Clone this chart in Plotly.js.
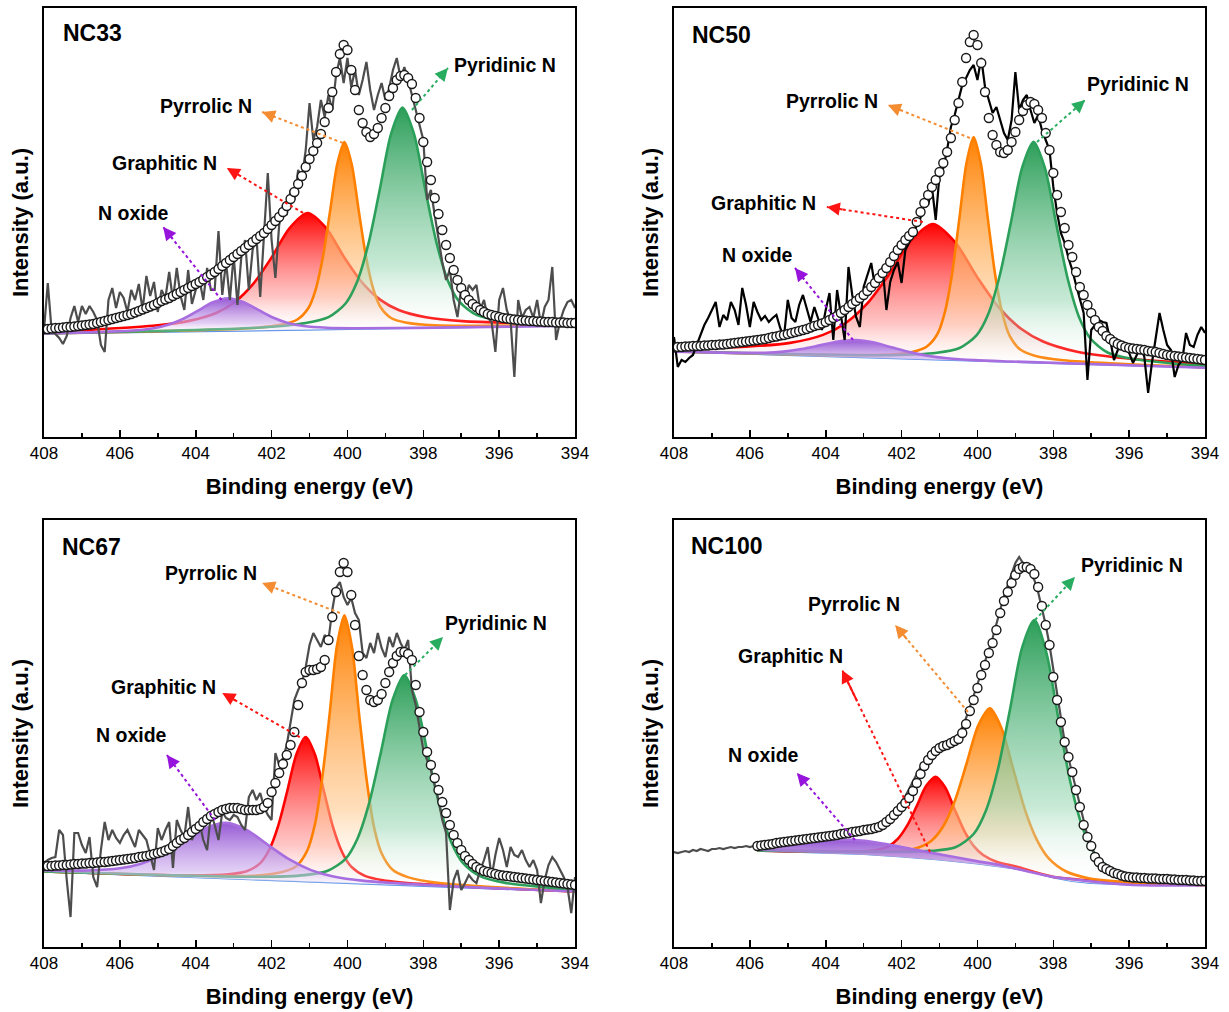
<!DOCTYPE html>
<html><head><meta charset="utf-8">
<script src="https://cdn.plot.ly/plotly-3.0.1.min.js"></script>
<style>html,body{margin:0;padding:0;background:#fff}#chart{width:1229px;height:1012px}</style>
</head><body><div id="chart"></div>
<script>
// ---------------- DATA (binding energy in eV, intensity in a.u.) ----------------
// raw spectra and envelopes sampled every 0.1 eV from 408 eV downwards
const nc33_raw = [107,154,107,103,99,93,101,119,131,115,131,123,131,125,117,92,85,137,149,129,145,139,125,147,137,153,127,161,141,155,125,147,139,165,137,169,141,127,167,133,147,157,137,169,147,147,206,142,175,137,182,132,179,197,147,187,201,140,205,264,197,159,212,232,222,247,237,267,259,287,334,297,310,337,320,342,327,362,379,354,379,350,367,342,357,375,347,327,342,354,337,349,367,379,359,370,357,342,327,312,297,237,247,222,197,175,157,167,137,120,149,137,152,147,152,127,137,119,115,85,137,149,127,117,60,137,119,127,130,119,137,112,130,137,170,97,115,127,135,137,129];
const nc33_fit = [108,108,108.5,109,109,109.5,110,110,110.5,111,111.5,112,112.5,113,114,115,116,117,118,119,120,121,122,123,124.5,126,127.5,129,130.5,132,134,136,137.5,139,141,143,145,147,149,151,153,155,157.5,160,162.5,165,168,171,174,177,180,183,186,189,192,195,198,201,204,208,212,216,220,225,231,238,245,253,261,270,278,286,294,303,315,329,345,365,383,392,387,367,347,327,314,305,300,303,309,319,329,341,349,357,361,362,359,353,339,319,295,275,257,239,223,207,192,179,167,157,149,142,137,133,130,127,125,123,122,121,120,119,118.5,118,117.5,117,116.5,116.5,116,116,115.5,115.5,115,115,115,114.5,114.5,114.5,114,114,114];
const nc33_base_x = [408, 394];
const nc33_base_y = [103, 111];
const nc33_pyridinic_x = [408,402.3,401.1,400.5,400.05,399.75,399.45,399.15,398.85,398.55,398.25,397.95,397.65,397.35,397.05,396.6,396.0,394.8,394];
const nc33_pyridinic_y = [103.5,109.5,114,119.8,133.5,154.7,192.8,247,303.2,329.4,303.6,247.7,193.9,156.1,135.3,122.1,117,113.8,113];
const nc33_pyrrolic_x = [408,402.46,401.7,401.32,401.03,400.84,400.65,400.46,400.27,400.08,399.89,399.7,399.51,399.32,399.13,398.85,398.47,397.71,394];
const nc33_pyrrolic_y = [103.5,109,112.6,117.5,129,147.2,179.4,225.2,272.8,295,273,225.6,180.1,148.1,130,119,114.5,111.7,112];
const nc33_graphitic_x = [408,407.05,405.13,404.17,403.45,402.97,402.49,402.01,401.53,401.05,400.57,400.09,399.61,399.13,398.65,397.93,396.97,395.05,394];
const nc33_graphitic_y = [105,106.7,111.2,116.1,124.2,134.9,152.8,178.9,208.7,224,209.3,180,154.4,137.1,127,119.7,115.9,113.6,113];
const nc33_oxide_x = [408,406.55,405.75,405.15,404.75,404.35,403.95,403.55,403.15,402.75,402.35,401.95,401.55,401.15,400.55,399.75,398.15,394];
const nc33_oxide_y = [103.5,104.9,106.2,108.5,112,117.8,126.1,134.7,138.8,135.1,127.1,119.2,113.8,110.9,109.2,108.8,109.1,111.2];

const nc50_raw = [100,70,77,75,79,82,92,102,112,119,127,135,110,122,117,135,127,112,149,132,110,135,125,117,121,115,119,122,109,100,137,119,115,132,142,127,115,130,119,107,127,144,97,147,122,97,170,142,120,110,150,162,174,150,157,170,127,155,167,175,154,187,194,202,212,219,237,232,250,217,262,269,287,310,322,337,352,359,367,372,357,379,350,337,324,330,317,304,297,317,365,327,337,342,327,314,322,307,297,287,250,224,204,194,179,167,152,139,124,57,107,112,117,115,114,97,77,87,94,89,84,74,82,90,80,44,74,97,124,107,92,87,60,72,77,104,92,90,102,110,104];
const nc50_fit = [90,90,90,90.5,90.5,91,91,91,91.5,91.5,92,92,92.5,92.5,93,93.5,94,94.5,95,95.5,96,96.5,97,97.5,98,99,100,100.5,101.5,102,103,104,105,106,107,108,109.5,111,112,113.5,115,117,119,121,124,127,130,133,136,139,142,146,150,154,159,164,169,175,181,187,192,197,201,205,215,225,234,242,250,257,265,274,285,299,317,334,355,379,395,402,392,374,345,319,302,292,285,284,287,295,305,317,326,332,335,333,327,319,304,287,264,242,225,209,192,180,165,150,142,132,124,117,110,106,101,98,95,93,91.5,90,89,88.5,88,87.5,87,86,85.5,85,84,83,82,81.5,81,80.5,80,79.5,79,78.5,78,77.5,77];
const nc50_base_x = [408, 394];
const nc50_base_y = [85, 69];
const nc50_pyridinic_x = [408,402.27,401.07,400.47,400.02,399.72,399.42,399.12,398.82,398.52,398.22,397.92,397.62,397.32,397.02,396.57,395.97,394.77,394];
const nc50_pyridinic_y = [85.5,81.8,84.2,89,101.9,122.5,160.2,213.9,269.5,295.2,268.8,212.5,158.2,119.8,98.5,84.5,78.4,73.2,71];
const nc50_pyrrolic_x = [408,402.48,401.72,401.34,401.05,400.86,400.67,400.48,400.29,400.1,399.91,399.72,399.53,399.34,399.15,398.87,398.49,397.73,394];
const nc50_pyrrolic_y = [85.5,82.1,85,90.2,103.3,124.7,162.8,217.3,273.8,300,273.4,216.4,161.5,123,101.1,87.4,81.3,76.7,69.5];
const nc50_graphitic_x = [408,406.1,404.94,404.07,403.49,402.91,402.33,401.75,401.17,400.59,400.01,399.43,398.85,398.27,397.4,396.24,394];
const nc50_graphitic_y = [89,90.4,94.1,102.1,113.5,133.3,162.7,196.3,213,194.9,160.1,129.3,108.2,95.5,85.5,79.2,72.5];
const nc50_oxide_x = [408,407.28,406.32,405.6,405.12,404.64,404.16,403.68,403.2,402.72,402.24,401.76,401.28,400.8,400.08,399.12,394];
const nc50_oxide_y = [85.3,84.8,84.1,84.3,85.4,87.9,91.6,95.5,97,94.4,89.4,84.6,81,78.8,76.9,75.5,69.2];

const nc67_raw = [84,87,89,90,117,112,67,30,114,114,102,94,110,70,60,97,125,107,117,109,104,112,117,109,100,117,112,107,92,77,119,107,117,125,79,127,117,110,140,107,117,124,107,97,134,122,107,135,129,127,132,130,122,117,150,157,147,154,140,132,127,194,182,189,202,227,247,257,264,280,302,314,307,300,312,307,337,359,365,350,342,349,334,327,294,289,304,294,314,299,290,310,300,314,304,297,307,257,242,217,197,187,177,162,147,127,114,37,67,77,57,64,72,67,64,77,87,100,70,92,109,97,80,100,92,90,97,87,80,87,77,44,67,82,90,85,77,70,60,34,70];
const nc67_fit = [81,81,81,81.5,81.5,82,82,82.5,83,83,83.5,83.5,84,84,84.5,85,85,85.5,86,86.5,87,87.5,88,88.5,89,90,90.5,91,92,93,94,95,96.5,98,101,104,107,109,112,115,118,121,125,128,131,133,135,137,138,139,139,139,138,137,137,137,137,138,140,144,155,164,174,183,192,202,215,242,264,275,277,277,278,280,287,307,330,355,375,384,375,352,322,291,272,257,247,245,247,253,264,275,284,291,295,295,293,287,262,235,215,195,182,169,157,145,134,122,112,104,97,91,87,83,80,78,76,75,74,73,72,71.5,71,70.5,70,69.5,69,68.5,68,67.5,67,66.5,66,65.5,65,64.5,64,63.5,63,62.5,62];
const nc67_base_x = [408, 394];
const nc67_base_y = [75, 55];
const nc67_pyridinic_x = [408,402.38,401.14,400.52,400.05,399.74,399.43,399.12,398.81,398.5,398.19,397.88,397.57,397.26,396.95,396.49,395.87,394.63,394];
const nc67_pyridinic_y = [75.5,70.2,71.9,76.3,88.2,108.1,143.7,194.4,247.1,272,246.2,192.6,141,104.6,83.8,70.6,64.4,59.1,56];
const nc67_pyrrolic_x = [408,402.53,401.75,401.35,401.06,400.86,400.67,400.47,400.28,400.08,399.88,399.69,399.49,399.3,399.1,398.81,398.41,397.63,394];
const nc67_pyrrolic_y = [75.5,71.2,74.7,80.8,96.5,122.2,167.7,232.8,300.4,331.7,299.8,231.7,166,119.9,93.7,77.2,69.9,64.2,55.5];
const nc67_graphitic_x = [408,404.1,403.14,402.66,402.3,402.06,401.82,401.58,401.34,401.1,400.86,400.62,400.38,400.14,399.9,399.54,399.06,398.1,394];
const nc67_graphitic_y = [75.5,71.6,72.7,75.7,83.9,97.5,122,157,193.4,210,192.7,155.7,119.9,94.8,80.4,71.2,66.8,63.1,55.5];
const nc67_oxide_x = [408,406.84,406,405.44,404.88,404.32,403.76,403.2,402.64,402.08,401.52,400.96,400.4,399.56,398.44,396.2,394];
const nc67_oxide_y = [76.8,76.5,78.7,83.3,92.1,104.9,118.3,124.1,116.7,101.7,87.3,76.9,70.8,66.1,63.1,58.9,55.5];

const nc100_raw = [95,94,95,96,95,97,96,98,97,96,98,98,99,98,99,100,99,100,100,101,100,101,101,101.5,102,103,103.5,104,104.5,105,106,106.5,107,107.5,108,108.5,109,109.5,110,110.5,111,111.5,112,112.5,113,114,114.5,115,116,116.5,117,118,118.5,119,121,123,126,130,135,140,145,151,158,166,173,180,186,191,195,198,200,202,204,206,209,213,220,229,240,251,262,274,285,297,309,322,337,351,362,373,384,390,384,380,374,367,355,340,322,302,277,250,227,205,189,173,157,141,124,111,101,92,85,81,78,76,74,73,72,71,70,70,69.5,69,69,68.5,68.5,68,68,68,67.5,67.5,67,67,67,66.5,66.5,66,66,66,65.5];
// envelope of NC100 starts at 405.8 eV
const nc100_fit = [101,101.5,102,102.5,103,104,104.5,105,105.5,106,106.5,107,107.5,108,108.5,109,109.5,110,110.5,111,111.5,112,113,113.5,114,115,115.5,116,117,117.5,118,119,120,122,125,128,132,136,140,144,149,156,164,173,181,187,192,196,199,201,202,204,206,208,214,223,236,247,259,272,282,294,304,317,334,346,355,364,372,378,380,380,378,373,360,341,322,302,270,247,225,205,190,175,157,140,122,110,101,90,85,80,78,76,74,73,71.5,70.5,70,69.5,69.5,69,69,68.5,68.5,68.5,68,68,68,67.5,67.5,67,67,67,66.5,66.5,66,66,66];
const nc100_base_x = [405.8,404,403,402,401,400,399.5,399,398.5,398,397.5,397,396,395,394];
const nc100_base_y = [96,94,92.5,90,87,83,80.5,78,74,69,65.5,63.5,62,61.7,61.5];
const nc100_pyridinic_x = [405.8,402.5,401.22,400.58,400.1,399.78,399.46,399.14,398.82,398.5,398.18,397.86,397.54,397.22,396.9,396.42,395.78,394.5,394];
const nc100_pyridinic_y = [96.5,95.1,96.1,99.7,113,136,177.7,237.8,299.7,327,293.9,227.1,163.2,118.5,92.9,77,70,65.4,63.5];
const nc100_pyrrolic_x = [405.8,403.55,402.31,401.69,401.22,400.91,400.6,400.29,399.98,399.67,399.36,399.05,398.74,398.43,398.12,397.66,397.04,395.8,394];
const nc100_pyrrolic_y = [96.5,95.8,95.8,98,106.1,120.2,145.8,183,221.4,238.6,218.3,177.1,136.4,106.9,88.6,75.5,68.6,64.3,62];
const nc100_graphitic_x = [405.8,404.23,403.23,402.73,402.35,402.1,401.85,401.6,401.35,401.1,400.85,400.6,400.35,400.1,399.85,399.48,398.98,397.98,394];
const nc100_graphitic_y = [96.5,95.4,95.6,96.6,100.6,108.1,121.6,141,161.2,170.3,159.6,137.6,116.4,101.2,92,85.1,80.5,70.1,62];
const nc100_oxide_x = [405.8,404.9,404.1,403.3,402.5,401.7,400.9,400.1,399.3,398.1,396,394];
const nc100_oxide_y = [100.9,103.7,106.4,107.1,103.6,97.8,92,86.4,81.1,70.8,62.3,61.7];

const sample_names = ['NC33', 'NC50', 'NC67', 'NC100'];
const species_names = {pyridinic: 'Pyridinic N', pyrrolic: 'Pyrrolic N', graphitic: 'Graphitic N', oxide: 'N oxide'};
const x_ticks = [408, 406, 404, 402, 400, 398, 396, 394];

// ---------------- STYLE / LAYOUT ----------------
const FONT = 'Arial, "Liberation Sans", Helvetica, sans-serif';
const STYLE = {
  graphitic: {line: 'rgb(255,0,0)', arrow: 'rgb(255,20,20)',
    scale: [[0,'rgba(255,255,255,0)'],[0.3,'rgba(255,160,160,0.6)'],[1,'rgba(255,0,0,1)']]},
  pyrrolic: {line: 'rgb(255,128,0)', arrow: 'rgb(244,140,50)',
    scale: [[0,'rgba(255,255,255,0)'],[0.3,'rgba(255,200,140,0.6)'],[1,'rgba(255,128,0,1)']]},
  pyridinic: {line: 'rgb(44,160,90)', arrow: 'rgb(40,172,96)',
    scale: [[0,'rgba(255,255,255,0)'],[0.3,'rgba(160,218,185,0.6)'],[1,'rgba(44,158,88,1)']]},
  oxide: {line: 'rgb(168,110,224)', arrow: 'rgb(150,20,220)',
    scale: [[0,'rgba(255,255,255,0)'],[0.3,'rgba(210,182,240,0.65)'],[1,'rgba(150,88,212,1)']]}
};

const PANELS = [
  {xa:'x', ya:'y', xdom:[0.0358,0.4679], ydom:[0.5682,0.9921], ymax:429,
   raw:nc33_raw, rawColor:'#4d4d4d', fit:nc33_fit, fitX0:408, base:[nc33_base_x, nc33_base_y],
   comps:{graphitic:[nc33_graphitic_x,nc33_graphitic_y], pyrrolic:[nc33_pyrrolic_x,nc33_pyrrolic_y], pyridinic:[nc33_pyridinic_x,nc33_pyridinic_y], oxide:[nc33_oxide_x,nc33_oxide_y]},
   namePos:[407.55,404],
   labels:{pyridinic:[395.85,372], pyrrolic:[403.73,331], graphitic:[404.81,274], oxide:[405.65,224]},
   arrows:{pyridinic:[398.3,327,397.35,369], pyrrolic:[400.12,294,402.25,325], graphitic:[401.17,224,403.18,269], oxide:[403.32,137,404.86,210]}},
  {xa:'x2', ya:'y2', xdom:[0.5484,0.9805], ydom:[0.5682,0.9921], ymax:429,
   raw:nc50_raw, rawColor:'#000000', fit:nc50_fit, fitX0:408, base:[nc50_base_x, nc50_base_y],
   comps:{graphitic:[nc50_graphitic_x,nc50_graphitic_y], pyrrolic:[nc50_pyrrolic_x,nc50_pyrrolic_y], pyridinic:[nc50_pyridinic_x,nc50_pyridinic_y], oxide:[nc50_oxide_x,nc50_oxide_y]},
   namePos:[407.58,402],
   labels:{pyridinic:[395.77,353], pyrrolic:[403.83,336], graphitic:[405.65,234], oxide:[405.79,182]},
   arrows:{pyridinic:[398.43,295,397.16,337], pyrrolic:[400.2,299,402.36,332], graphitic:[401.44,215,403.97,230], oxide:[403.28,97,404.81,169]}},
  {xa:'x3', ya:'y3', xdom:[0.0358,0.4679], ydom:[0.0642,0.4862], ymax:427,
   raw:nc67_raw, rawColor:'#4d4d4d', fit:nc67_fit, fitX0:408, base:[nc67_base_x, nc67_base_y],
   comps:{graphitic:[nc67_graphitic_x,nc67_graphitic_y], pyrrolic:[nc67_pyrrolic_x,nc67_pyrrolic_y], pyridinic:[nc67_pyridinic_x,nc67_pyridinic_y], oxide:[nc67_oxide_x,nc67_oxide_y]},
   namePos:[407.58,400],
   labels:{pyridinic:[396.08,324], pyrrolic:[403.6,374], graphitic:[404.86,260], oxide:[405.68,212]},
   arrows:{pyridinic:[398.48,272,397.48,310], pyrrolic:[400.2,334,402.25,364], graphitic:[401.12,207,403.3,254], oxide:[403.49,127,404.76,192]}},
  {xa:'x4', ya:'y4', xdom:[0.5484,0.9805], ydom:[0.0642,0.4862], ymax:427,
   raw:nc100_raw, rawColor:'#4d4d4d', fit:nc100_fit, fitX0:405.8, base:[nc100_base_x, nc100_base_y],
   comps:{graphitic:[nc100_graphitic_x,nc100_graphitic_y], pyrrolic:[nc100_pyrrolic_x,nc100_pyrrolic_y], pyridinic:[nc100_pyridinic_x,nc100_pyridinic_y], oxide:[nc100_oxide_x,nc100_oxide_y]},
   namePos:[407.6,401],
   labels:{pyridinic:[395.93,382], pyrrolic:[403.25,343], graphitic:[404.92,291], oxide:[405.63,192]},
   arrows:{pyridinic:[398.48,327,397.43,370], pyrrolic:[400.25,235,402.17,322], graphitic:[401.25,95,403.57,277], oxide:[403.23,107,404.76,174]}}
];

const traces = [];
const annotations = [];
const shapes = [];
const layout = {
  width: 1229, height: 1012,
  margin: {l:0, r:0, t:0, b:0},
  paper_bgcolor: '#ffffff', plot_bgcolor: '#ffffff',
  showlegend: false,
  font: {family: FONT, color: '#000'}
};

PANELS.forEach((p, i) => {
  const n = i === 0 ? '' : String(i + 1);
  layout['xaxis' + n] = {
    domain: p.xdom, anchor: p.ya, range: [408, 394], autorange: false,
    tickvals: x_ticks, ticks: 'inside', ticklen: 7, tickwidth: 1.6, tickcolor: '#000',
    minor: {dtick: 1, tick0: 0, ticks: 'inside', ticklen: 4, tickwidth: 1.6, tickcolor: '#000', showgrid: false},
    showline: true, linecolor: '#000', linewidth: 2, mirror: true,
    showgrid: false, zeroline: false,
    tickfont: {family: FONT, size: 17, color: '#000'},
    title: {text: '<b>Binding energy (eV)</b>', font: {family: FONT, size: 22, color: '#000'}, standoff: 16}
  };
  layout['yaxis' + n] = {
    domain: p.ydom, anchor: p.xa, range: [0, p.ymax], autorange: false,
    showticklabels: false, ticks: '',
    showline: true, linecolor: '#000', linewidth: 2, mirror: true,
    showgrid: false, zeroline: false,
    title: {text: '<b>Intensity (a.u.)</b>', font: {family: FONT, size: 22, color: '#000'}, standoff: 7}
  };

  // visible baseline
  traces.push({type:'scatter', mode:'lines', x:p.base[0], y:p.base[1], xaxis:p.xa, yaxis:p.ya,
    line:{color:'rgb(80,140,230)', width:1.2}, hoverinfo:'skip'});

  ['graphitic', 'pyrrolic', 'pyridinic', 'oxide'].forEach(key => {
    const c = p.comps[key];
    traces.push({type:'scatter', mode:'lines', x:p.base[0], y:p.base[1], xaxis:p.xa, yaxis:p.ya,
      line:{width:0, color:'rgba(0,0,0,0)'}, hoverinfo:'skip'});
    traces.push({type:'scatter', mode:'lines', x:c[0], y:c[1], xaxis:p.xa, yaxis:p.ya,
      fill:'tonexty', fillcolor:'rgba(0,0,0,0)',
      fillgradient:{type:'vertical', colorscale: STYLE[key].scale},
      line:{color:STYLE[key].line, width:2.6, shape:'spline', smoothing:0.8}, hoverinfo:'skip'});
  });

  traces.push({type:'scatter', mode:'lines', x0:408, dx:-0.1, y:p.raw, xaxis:p.xa, yaxis:p.ya,
    line:{color:p.rawColor, width:2.2}, hoverinfo:'skip'});
  traces.push({type:'scatter', mode:'markers', x0:p.fitX0, dx:-0.1, y:p.fit, xaxis:p.xa, yaxis:p.ya,
    marker:{symbol:'circle', size:9, color:'#ffffff', line:{color:'#1a1a1a', width:1.4}}, hoverinfo:'skip'});

  annotations.push({xref:p.xa, yref:p.ya, x:p.namePos[0], y:p.namePos[1], xanchor:'left', yanchor:'middle',
    text:'<b>' + sample_names[i] + '</b>', showarrow:false, font:{family:FONT, size:23, color:'#000'}});

  Object.keys(species_names).forEach(key => {
    const lp = p.labels[key];
    annotations.push({xref:p.xa, yref:p.ya, x:lp[0], y:lp[1], xanchor:'center', yanchor:'middle',
      text:'<b>' + species_names[key] + '</b>', showarrow:false, font:{family:FONT, size:19.5, color:'#000'}});
    const a = p.arrows[key];
    shapes.push({type:'line', xref:p.xa, yref:p.ya, x0:a[0], y0:a[1], x1:a[2], y1:a[3],
      line:{color:STYLE[key].arrow, width:2, dash:'dot'}});
    annotations.push({xref:p.xa, yref:p.ya, axref:p.xa, ayref:p.ya,
      x:a[2], y:a[3], ax:a[2] - 0.18 * (a[2] - a[0]), ay:a[3] - 0.18 * (a[3] - a[1]),
      text:'', showarrow:true, arrowhead:2, arrowsize:1.3, arrowwidth:2, arrowcolor:STYLE[key].arrow});
  });
});

layout.annotations = annotations;
layout.shapes = shapes;

Plotly.newPlot('chart', traces, layout, {staticPlot: true, displayModeBar: false});
</script>
</body></html>
